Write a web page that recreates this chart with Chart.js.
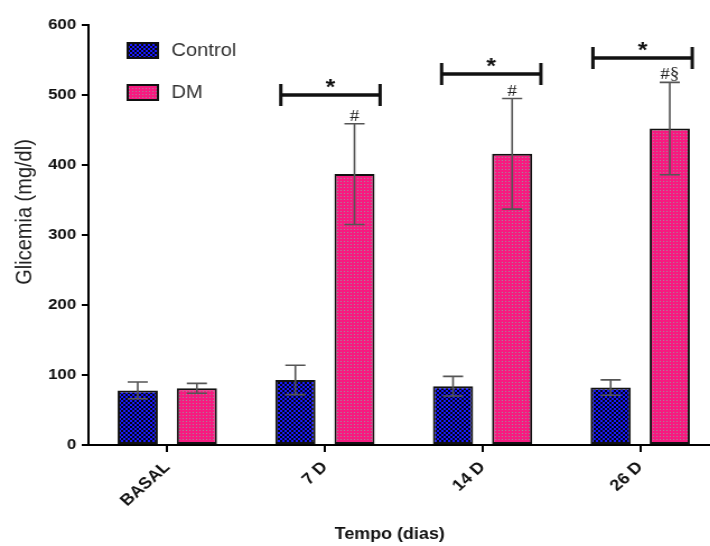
<!DOCTYPE html>
<html>
<head>
<meta charset="utf-8">
<script src="https://cdn.jsdelivr.net/npm/chart.js@4.4.1/dist/chart.umd.min.js"></script>
<style>
  html, body { margin: 0; padding: 0; background: #fff; overflow: hidden; }
  #wrap { width: 645px; height: 546px; transform: scaleX(1.12); transform-origin: 0 0; }
</style>
</head>
<body>
<div id="wrap"><canvas id="glicemiaChart"></canvas></div>
<script>
// glycaemia per group, mean and SD in mg/dl
var categories = ['BASAL', '7 D', '14 D', '26 D'];
var controlMean = [78, 93, 84, 82];
var controlSd = [12, 21, 14, 11];
var dmMean = [81, 387, 416, 452];
var dmSd = [7, 72, 79, 66];

// marks over the DM error bars
var dmMarks = ['', '#', '#', '#\u00a7'];

// Control vs DM brackets (*): category index and bracket height in mg/dl
var starIndex = [1, 2, 3];
var starLevel = [500, 530, 553];

var SANS = "'Liberation Sans', Arial, sans-serif";
var SERIF = "'Liberation Serif', 'Times New Roman', serif";

function checkerPattern() {
  var c = document.createElement('canvas');
  c.width = 4; c.height = 4;
  var g = c.getContext('2d');
  g.fillStyle = '#050510';
  g.fillRect(0, 0, 4, 4);
  g.fillStyle = '#1a1aff';
  g.fillRect(0, 0, 2, 2);
  g.fillRect(2, 2, 2, 2);
  return g.createPattern(c, 'repeat');
}

function dotPattern() {
  var c = document.createElement('canvas');
  c.width = 3; c.height = 3;
  var g = c.getContext('2d');
  g.fillStyle = '#f71a80';
  g.fillRect(0, 0, 3, 3);
  g.fillStyle = '#a08a98';
  g.fillRect(1, 1, 1, 1);
  return g.createPattern(c, 'repeat');
}

var controlFill = checkerPattern();
var dmFill = dotPattern();

// error bars, the # marks and the significance brackets
var errorBars = {
  id: 'errorBars',
  afterDatasetsDraw: function (chart) {
    var ctx = chart.ctx;
    var x = chart.scales.x, y = chart.scales.y;
    ctx.save();
    ctx.strokeStyle = '#555';
    ctx.lineWidth = 1.6;
    chart.data.datasets.forEach(function (ds, d) {
      chart.getDatasetMeta(d).data.forEach(function (bar, i) {
        var top = y.getPixelForValue(ds.data[i] + ds.sd[i]);
        var bot = y.getPixelForValue(ds.data[i] - ds.sd[i]);
        ctx.beginPath();
        ctx.moveTo(bar.x, bot); ctx.lineTo(bar.x, top);
        ctx.moveTo(bar.x - 9, top); ctx.lineTo(bar.x + 9, top);
        ctx.moveTo(bar.x - 9, bot); ctx.lineTo(bar.x + 9, bot);
        ctx.stroke();
      });
    });

    // # / § over DM
    ctx.fillStyle = '#222';
    ctx.font = '17px ' + SERIF;
    ctx.textAlign = 'center';
    ctx.textBaseline = 'alphabetic';
    chart.getDatasetMeta(1).data.forEach(function (bar, i) {
      if (!dmMarks[i]) return;
      var top = y.getPixelForValue(dmMean[i] + dmSd[i]);
      ctx.fillText(dmMarks[i], bar.x, top - 3);
    });

    // brackets
    var band = x.getPixelForValue(1) - x.getPixelForValue(0);
    var ends = [[-0.28, 0.35], [-0.26, 0.37], [-0.30, 0.33]];
    ctx.strokeStyle = '#111';
    ctx.fillStyle = '#111';
    ctx.font = 'bold 22px ' + SANS;
    starIndex.forEach(function (idx, k) {
      var cx = x.getPixelForValue(idx);
      var x0 = cx + ends[k][0] * band, x1 = cx + ends[k][1] * band;
      var yy = y.getPixelForValue(starLevel[k]);
      ctx.lineWidth = 3.5;
      ctx.beginPath();
      ctx.moveTo(x0, yy); ctx.lineTo(x1, yy);
      ctx.stroke();
      ctx.lineWidth = 3;
      ctx.beginPath();
      ctx.moveTo(x0, yy - 11); ctx.lineTo(x0, yy + 11);
      ctx.moveTo(x1, yy - 11); ctx.lineTo(x1, yy + 11);
      ctx.stroke();
      ctx.fillText('*', (x0 + x1) / 2, yy - 1);
    });
    ctx.restore();
  }
};

// legend boxes in the top-left corner and the two axis titles
var decorations = {
  id: 'decorations',
  afterDraw: function (chart) {
    var ctx = chart.ctx;
    var area = chart.chartArea;
    ctx.save();
    chart.data.datasets.forEach(function (ds, d) {
      var bx = area.left + 35, by = 43 + d * 42;
      ctx.fillStyle = ds.backgroundColor;
      ctx.fillRect(bx, by, 27, 15);
      ctx.strokeStyle = '#111';
      ctx.lineWidth = 2;
      ctx.strokeRect(bx, by, 27, 15);
      ctx.fillStyle = '#333';
      ctx.font = '18px ' + SANS;
      ctx.textAlign = 'left';
      ctx.textBaseline = 'middle';
      ctx.fillText(ds.label, area.left + 74, by + 8);
    });

    ctx.fillStyle = '#111';
    ctx.font = 'bold 16px ' + SANS;
    ctx.textAlign = 'center';
    ctx.textBaseline = 'middle';
    ctx.fillText('Tempo (dias)', 348, 535);

    ctx.translate(22, 212);
    ctx.rotate(-Math.PI / 2);
    ctx.fillStyle = '#222';
    ctx.font = '20px ' + SANS;
    ctx.fillText('Glicemia (mg/dl)', 0, 0);
    ctx.restore();
  }
};

var ctx = document.getElementById('glicemiaChart').getContext('2d');
var glicemiaChart = new Chart(ctx, {
  type: 'bar',
  data: {
    labels: categories,
    datasets: [{
      label: 'Control',
      data: controlMean,
      sd: controlSd,
      backgroundColor: controlFill,
      borderColor: '#111',
      borderWidth: 2,
      borderSkipped: false
    }, {
      label: 'DM',
      data: dmMean,
      sd: dmSd,
      backgroundColor: dmFill,
      borderColor: '#111',
      borderWidth: 2,
      borderSkipped: false
    }]
  },
  options: {
    responsive: true,
    maintainAspectRatio: false,
    animation: false,
    categoryPercentage: 0.75,
    barPercentage: 0.68,
    layout: {
      padding: { top: 25, right: 3, bottom: 0, left: 0 }
    },
    plugins: {
      legend: { display: false },
      tooltip: { enabled: false }
    },
    scales: {
      x: {
        grid: {
          offset: false,
          drawOnChartArea: false,
          tickLength: 7,
          color: '#000',
          lineWidth: 2
        },
        border: { color: '#000', width: 2 },
        ticks: {
          color: '#111',
          font: { family: SANS, size: 16, weight: 'bold' },
          minRotation: 45,
          maxRotation: 45,
          padding: 6
        },
        afterFit: function (scale) { scale.height = 101; }
      },
      y: {
        min: 0,
        max: 600,
        ticks: {
          stepSize: 100,
          padding: 5,
          color: '#111',
          font: { family: SANS, size: 15, weight: 'bold' }
        },
        grid: {
          drawOnChartArea: false,
          tickLength: 6,
          color: '#000',
          lineWidth: 2
        },
        border: { color: '#000', width: 2 },
        afterFit: function (scale) { scale.width = 79; }
      }
    }
  },
  plugins: [errorBars, decorations]
});
</script>
</body>
</html>
